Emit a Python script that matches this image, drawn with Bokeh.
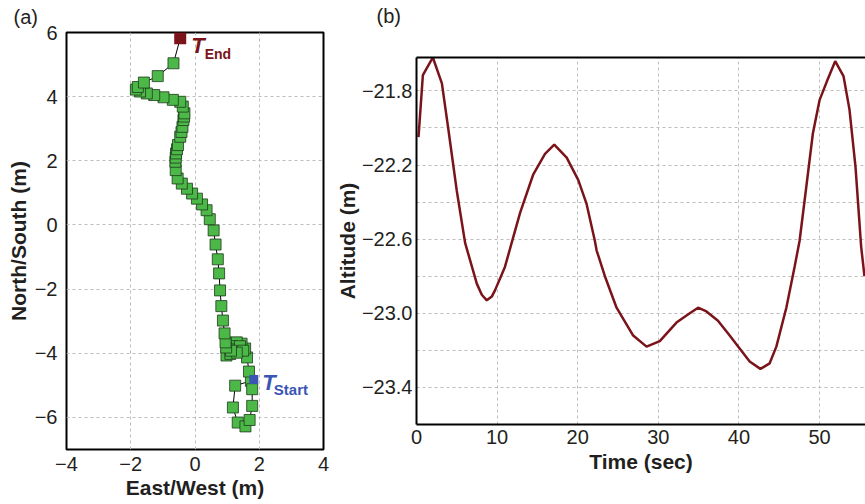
from bokeh.plotting import figure
from bokeh.layouts import row, column
from bokeh.models import Range1d, FixedTicker, Label, LinearAxis, Spacer, Title
from bokeh.embed import file_html
from bokeh.resources import INLINE

# ---------------- data ----------------
# (a) horizontal trajectory, from T_Start to T_End
east = [1.83, 1.74, 1.25, 1.18, 1.33, 1.57, 1.70, 1.78, 1.78, 1.68, 1.62, 1.56, 1.45, 1.30,
        1.15, 1.03, 0.98, 1.10, 1.25, 1.40, 1.50, 1.30, 1.12, 0.97, 0.95, 0.92, 0.87, 0.82,
        0.78, 0.75, 0.71, 0.64, 0.58, 0.46, 0.36, 0.22, 0.06, -0.09, -0.25, -0.41, -0.54,
        -0.60, -0.61, -0.60, -0.59, -0.56, -0.53, -0.46, -0.42, -0.39, -0.36, -0.34, -0.33,
        -0.38, -0.46, -0.69, -0.98, -1.27, -1.50, -1.71, -1.84, -1.78, -1.59, -1.16, -0.67,
        -0.46]
north = [-4.82, -4.86, -5.01, -5.69, -6.16, -6.28, -6.08, -5.64, -5.12, -4.57, -4.13, -3.85,
         -3.70, -3.66, -3.78, -3.95, -4.07, -4.02, -3.88, -3.78, -3.92, -3.98, -3.92, -3.82,
         -3.66, -3.38, -2.98, -2.53, -2.04, -1.51, -1.07, -0.61, -0.17, 0.18, 0.46, 0.64,
         0.82, 0.98, 1.13, 1.29, 1.45, 1.71, 1.97, 2.10, 2.23, 2.36, 2.49, 2.75, 2.90, 3.06,
         3.27, 3.38, 3.48, 3.69, 3.84, 3.90, 3.98, 4.05, 4.10, 4.16, 4.22, 4.30, 4.44, 4.64,
         5.04, 5.82]

# (b) altitude vs time
time_s = [0.25, 0.79, 2.03, 3.15, 3.96, 5.00, 6.03, 7.48, 8.10, 8.72, 9.34, 9.75, 10.97,
          12.84, 14.49, 15.94, 17.09, 18.63, 20.06, 21.10, 22.13, 22.34, 23.37, 24.82, 26.88,
          28.54, 30.18, 32.25, 33.90, 34.93, 35.97, 37.40, 38.85, 40.09, 41.33, 42.66, 43.81,
          44.64, 45.88, 46.90, 47.52, 48.35, 49.17, 50.00, 50.90, 51.94, 52.97, 53.71, 54.46,
          55.16, 55.57]
altitude = [-22.05, -21.715, -21.62, -21.76, -22.01, -22.34, -22.62, -22.84, -22.90, -22.93,
            -22.91, -22.875, -22.75, -22.46, -22.25, -22.14, -22.09, -22.16, -22.28, -22.41,
            -22.61, -22.66, -22.80, -22.97, -23.12, -23.18, -23.15, -23.05, -23.00, -22.97,
            -22.99, -23.04, -23.12, -23.19, -23.26, -23.30, -23.27, -23.18, -22.97, -22.75,
            -22.61, -22.32, -22.03, -21.85, -21.75, -21.64, -21.72, -21.90, -22.21, -22.64,
            -22.80]

ew_ticks = [-4, -2, 0, 2, 4]
ns_ticks = [-6, -4, -2, 0, 2, 4, 6]
t_ticks = [0, 10, 20, 30, 40, 50]
alt_ticks = [-23.4, -23.2, -23.0, -22.8, -22.6, -22.4, -22.2, -22.0, -21.8]
alt_labelled = [-23.4, -23.0, -22.6, -22.2, -21.8]

FONT = "Liberation Sans"
TXT = "#231f20"
GRID = "#bdbdbd"
GREEN = "#4cb848"
DARKRED = "#7a141a"
BLUE = "#3b55b3"


def minus(v, fmt):
    return fmt.format(v).replace("-", "\u2212")


def style_axis(ax, label, standoff, label_standoff):
    ax.axis_label = label
    ax.axis_label_text_font = FONT
    ax.axis_label_text_font_style = "bold"
    ax.axis_label_text_font_size = "21px"
    ax.axis_label_text_color = TXT
    ax.axis_label_standoff = label_standoff
    ax.major_label_text_font = FONT
    ax.major_label_text_font_size = "20px"
    ax.major_label_text_color = TXT
    ax.major_label_standoff = standoff
    ax.major_tick_line_color = None
    ax.minor_tick_line_color = None
    ax.major_tick_out = 0
    ax.major_tick_in = 0
    ax.minor_tick_out = 0
    ax.minor_tick_in = 0
    ax.axis_line_color = None


def style_title(t, text, offset, standoff, valign):
    t.text = text
    t.align = "left"
    t.vertical_align = valign
    t.offset = offset
    t.standoff = standoff
    t.text_font = FONT
    t.text_font_style = "normal"
    t.text_font_size = "20px"
    t.text_color = TXT


BOTTOM = 55

# ---------------- panel (a) ----------------
p1 = figure(width=332, height=504, x_range=Range1d(-4, 4), y_range=Range1d(-7, 6),
            output_backend="svg", toolbar_location=None,
            min_border_left=66, min_border_right=9, min_border_top=32, min_border_bottom=BOTTOM)
p1.outline_line_color = "black"
p1.outline_line_width = 2
p1.outline_line_alpha = 1.0
p1.background_fill_color = "white"
p1.border_fill_color = "white"
style_title(p1.title, "(a)", -53, 6, "top")

p1.xaxis.ticker = FixedTicker(ticks=ew_ticks)
p1.yaxis.ticker = FixedTicker(ticks=ns_ticks)
p1.xaxis.major_label_overrides = {v: minus(v, "{:d}") for v in ew_ticks}
p1.yaxis.major_label_overrides = {v: minus(v, "{:d}") for v in ns_ticks}
style_axis(p1.xaxis[0], "East/West (m)", 7, 2)
style_axis(p1.yaxis[0], "North/South (m)", 9, 2)
for g in (p1.xgrid[0], p1.ygrid[0]):
    g.grid_line_color = GRID
    g.grid_line_dash = "3 3"
    g.grid_line_width = 1

p1.line(east, north, line_color="black", line_width=1)
p1.scatter(east[1:-1], north[1:-1], marker="square", size=11,
           fill_color=GREEN, line_color="#1e3b1c", line_width=1, line_alpha=0.8)
p1.scatter(east[-1:], north[-1:], marker="square", size=12, fill_color=DARKRED, line_color=None)
p1.scatter(east[:1], north[:1], marker="square", size=9, fill_color=BLUE, line_color=None)

p1.add_layout(Label(x=east[-1], y=north[-1], x_offset=11, y_offset=-7, text="T",
                    text_font=FONT, text_font_style="bold italic", text_font_size="22px",
                    text_color=DARKRED, text_baseline="alphabetic"))
p1.add_layout(Label(x=east[-1], y=north[-1], x_offset=24.5, y_offset=-16, text="End",
                    text_font=FONT, text_font_style="bold", text_font_size="14px",
                    text_color=DARKRED, text_baseline="alphabetic"))
p1.add_layout(Label(x=east[0], y=north[0], x_offset=8.5, y_offset=-3, text="T",
                    text_font=FONT, text_font_style="bold italic", text_font_size="22px",
                    text_color=BLUE, text_baseline="alphabetic"))
p1.add_layout(Label(x=east[0], y=north[0], x_offset=20, y_offset=-10, text="Start",
                    text_font=FONT, text_font_style="bold", text_font_size="15px",
                    text_color=BLUE, text_baseline="alphabetic"))

# ---------------- panel (b) ----------------
SHIFT = 1
p2 = figure(width=533, height=478, x_range=Range1d(0, 55.7), y_range=Range1d(-23.6, -21.62),
            output_backend="svg", toolbar_location=None, title=None,
            min_border_left=84, min_border_right=0, min_border_top=56, min_border_bottom=BOTTOM)
p2.outline_line_color = None
p2.background_fill_color = "white"
p2.border_fill_color = "white"

p2.xaxis.ticker = FixedTicker(ticks=t_ticks)
p2.yaxis.ticker = FixedTicker(ticks=alt_ticks)
p2.yaxis.major_label_overrides = {v: (minus(v, "{:.1f}") if v in alt_labelled else "")
                                  for v in alt_ticks}
style_axis(p2.xaxis[0], "Time (sec)", 5, 3)
style_axis(p2.yaxis[0], "Altitude (m)", 4, 0)
p2.xaxis.axis_line_color = "black"
p2.xaxis.axis_line_width = 2
p2.yaxis.axis_line_color = "black"
p2.yaxis.axis_line_width = 2

# top frame line (the right edge of the frame is cut off in the original)
top_axis = LinearAxis(ticker=FixedTicker(ticks=[]), axis_line_color="black", axis_line_width=2,
                      major_tick_line_color=None, minor_tick_line_color=None,
                      major_tick_out=0, major_tick_in=0, minor_tick_out=0, minor_tick_in=0,
                      major_label_text_font_size="0px", major_label_standoff=0,
                      axis_label_standoff=0)
p2.add_layout(top_axis, "above")
# second (empty) line keeps the panel label high above the frame, as in the original
title_b = Title()
style_title(title_b, "(b)\n", -40, 0, "top")
title_b.text_line_height = 1.3
p2.add_layout(title_b, "above")

for g in (p2.xgrid[0], p2.ygrid[0]):
    g.grid_line_color = GRID
    g.grid_line_dash = "3 3"
    g.grid_line_width = 1

p2.line(time_s, altitude, line_color=DARKRED, line_width=2.5)

layout = row(p1, column(Spacer(width=533, height=SHIFT), p2))
open("out.html", "w").write(file_html(layout, INLINE))
